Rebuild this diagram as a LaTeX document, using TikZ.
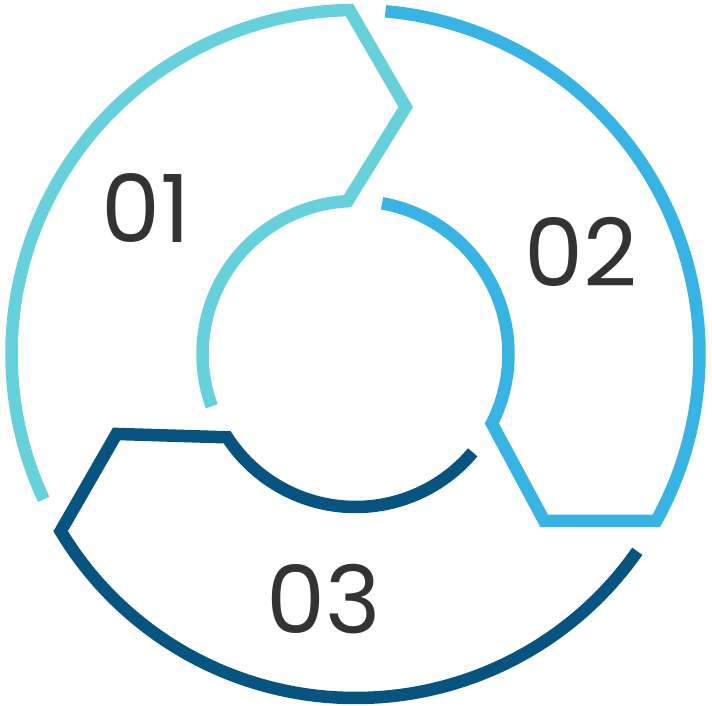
\documentclass[tikz,border=0pt]{standalone}
\usepackage{fontspec}
\setmainfont{Poppins}
\definecolor{tealseg}{RGB}{102,209,219}
\definecolor{blueseg}{RGB}{55,179,228}
\definecolor{darkseg}{RGB}{6,84,127}
\definecolor{numgray}{RGB}{51,51,51}
\tikzset{
  segline/.style={line width=12.5pt,line join=miter,line cap=butt},
  numlabel/.style={anchor=center,inner sep=0pt,text=numgray,font=\fontsize{94}{100}\selectfont}
}
\begin{document}
\begin{tikzpicture}[x=1pt,y=1pt]
\path[use as bounding box] (0,0) rectangle (712,706);
\begin{scope}[shift={(355.5,352)}]
% first part, left side
\draw[segline,tealseg] (205:344) arc[start angle=205,end angle=91,radius=344] -- (78.5:252) -- (93:153) arc[start angle=93,end angle=200,radius=153];
% second part, right side
\draw[segline,blueseg] (85:344) arc[start angle=85,end angle=-29,radius=344] -- (-41.5:252) -- (-27:153) arc[start angle=-27,end angle=80,radius=153];
% third part, bottom
\draw[segline,darkseg] (-35:344) arc[start angle=-35,end angle=-149,radius=344] -- (-161.5:252) -- (-147:153) arc[start angle=-147,end angle=-40,radius=153];
\end{scope}
\node[numlabel] (num01) at (146,498) {01};
\node[numlabel] (num02) at (581,454) {02};
\node[numlabel] (num03) at (324,107) {03};
\end{tikzpicture}
\end{document}
